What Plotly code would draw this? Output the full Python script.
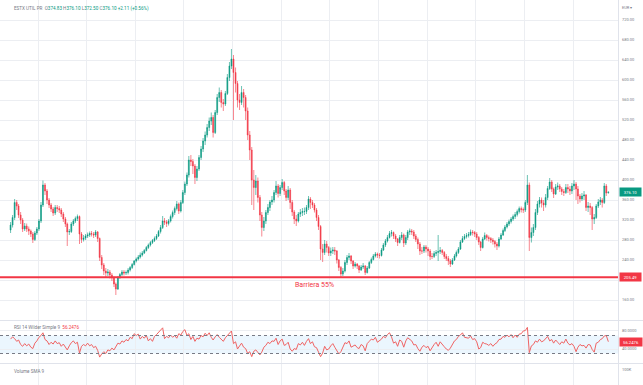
import pandas as pd
import plotly.graph_objects as go

FIG_W, FIG_H = 643, 385
PLOT_R = 618  # right edge of the panes (px)

symbol = "ESTX UTIL PR"
currency = "EUR"
barrier = 205.49
barrier_label = "Barriera 55%"

first_open = 300
last_open = 374.83

# monthly closes, Nov 1998 -> Jun 2023
closes = [
    310, 325,
    355, 348, 330, 320, 302, 308, 302, 298, 292, 281, 294, 302,
    318, 350, 390, 378, 360, 350, 342, 334, 345, 343, 340, 332,
    322, 312, 296, 297, 312, 318, 323, 327, 292, 281, 284, 288,
    290, 293, 292, 290, 296, 283, 245, 230, 218, 214, 216, 210,
    204, 192, 182, 205, 211, 216, 214, 215, 220, 225, 231, 238,
    242, 246, 250, 254, 259, 265, 270, 275, 279, 283, 288, 297,
    305, 318, 316, 313, 318, 327, 335, 343, 352, 338, 355, 375,
    392, 410, 440, 437, 428, 405, 422, 445, 462, 478, 490, 505,
    518, 525, 495, 535, 565, 575, 555, 552, 573, 605, 628, 642,
    615, 593, 560, 555, 575, 565, 538, 490, 460, 400, 385, 398,
    365, 330, 305, 318, 335, 345, 356, 360, 375, 388, 373, 385,
    395, 378, 365, 380, 355, 336, 322, 318, 332, 335, 337, 337,
    345, 362, 355, 350, 340, 325, 307, 262, 255, 272, 265, 254,
    258, 260, 258, 240, 225, 212, 218, 235, 245, 248, 238, 228,
    232, 228, 220, 226, 228, 215, 224, 235, 241, 248, 252, 250,
    249, 260, 270, 278, 285, 293, 295, 288, 282, 275, 285, 290,
    274, 285, 296, 298, 296, 288, 281, 272, 258, 258, 266, 262,
    258, 247, 247, 253, 255, 257, 259, 255, 247, 243, 238, 232,
    240, 248, 255, 262, 276, 283, 287, 289, 291, 296, 295, 292,
    285, 276, 265, 282, 289, 285, 283, 280, 277, 272, 268, 282,
    290, 299, 306, 312, 317, 322, 327, 331, 337, 343, 341, 340,
    355, 390, 285, 295, 305, 335, 352, 360, 354, 350, 365, 383,
    396, 382, 372, 386, 388, 382, 377, 375, 385, 382, 378, 388,
    392, 382, 368, 362, 368, 370, 345, 348, 345, 322, 325, 348,
    356, 360, 355, 388, 373.99, 376.10,
]

highs = [
    316, 330,
    362, 360, 352, 336, 324, 314, 313, 307, 301, 296, 298, 306,
    322, 356, 399, 394, 382, 364, 354, 346, 350, 350, 348, 344,
    336, 326, 315, 302, 316, 322, 327, 331, 329, 296, 290, 292,
    295, 297, 298, 296, 300, 298, 285, 250, 234, 224, 222, 220,
    214, 207, 195, 208, 214, 220, 220, 219, 224, 228, 234, 240,
    245, 250, 255, 258, 262, 268, 273, 278, 282, 287, 292, 300,
    310, 328, 324, 320, 322, 331, 339, 347, 358, 355, 360, 380,
    397, 415, 448, 450, 442, 432, 428, 450, 468, 484, 497, 512,
    525, 535, 530, 540, 572, 585, 580, 562, 578, 612, 636, 662,
    650, 625, 598, 572, 588, 582, 570, 545, 498, 466, 420, 410,
    405, 370, 336, 326, 340, 352, 360, 368, 380, 398, 392, 390,
    402, 398, 382, 388, 384, 360, 340, 330, 336, 342, 344, 345,
    350, 368, 366, 360, 354, 344, 330, 310, 272, 280, 278, 268,
    265, 266, 266, 260, 242, 228, 224, 240, 250, 254, 250, 240,
    236, 234, 230, 230, 234, 230, 228, 238, 245, 252, 256, 255,
    254, 264, 274, 282, 290, 298, 300, 297, 292, 284, 290, 296,
    293, 290, 300, 303, 302, 300, 292, 285, 276, 266, 270, 270,
    266, 262, 254, 258, 260, 290, 266, 262, 258, 252, 248, 242,
    244, 252, 259, 266, 280, 288, 292, 294, 296, 301, 300, 298,
    296, 288, 278, 286, 295, 292, 289, 286, 284, 280, 276, 286,
    294, 303, 310, 316, 321, 326, 331, 336, 341, 347, 347, 345,
    360, 410, 395, 305, 312, 342, 358, 366, 365, 360, 372, 388,
    404, 400, 385, 392, 395, 392, 386, 382, 392, 392, 388, 394,
    400, 396, 388, 372, 374, 378, 372, 356, 354, 348, 332, 352,
    362, 366, 364, 394, 392, 376.10,
]

lows = [
    294, 305,
    320, 340, 324, 312, 296, 298, 296, 290, 286, 274, 278, 290,
    298, 314, 346, 370, 352, 344, 336, 328, 330, 336, 334, 326,
    316, 306, 268, 290, 294, 308, 314, 318, 272, 274, 277, 280,
    284, 286, 287, 284, 286, 276, 238, 222, 210, 206, 208, 203,
    198, 186, 170, 180, 202, 208, 209, 210, 211, 217, 222, 229,
    235, 239, 243, 247, 252, 257, 262, 267, 272, 276, 280, 286,
    293, 302, 310, 306, 309, 315, 323, 330, 339, 332, 335, 352,
    370, 388, 405, 428, 412, 392, 398, 418, 440, 456, 470, 485,
    498, 510, 485, 492, 530, 556, 545, 538, 548, 570, 598, 622,
    520, 575, 545, 540, 550, 545, 520, 480, 440, 350, 340, 370,
    355, 318, 287, 298, 312, 330, 338, 350, 355, 370, 365, 368,
    380, 370, 358, 360, 342, 328, 312, 308, 315, 326, 328, 330,
    332, 340, 342, 344, 335, 318, 300, 240, 236, 250, 255, 248,
    248, 252, 250, 233, 218, 205, 208, 215, 230, 240, 232, 222,
    225, 222, 214, 218, 222, 210, 213, 222, 232, 239, 245, 244,
    243, 247, 258, 266, 275, 283, 287, 282, 276, 268, 273, 280,
    266, 270, 280, 290, 290, 282, 276, 262, 250, 252, 254, 255,
    248, 240, 242, 244, 248, 238, 252, 250, 242, 238, 230, 226,
    230, 238, 245, 252, 260, 274, 280, 283, 285, 288, 289, 286,
    280, 270, 258, 263, 280, 279, 277, 274, 271, 265, 260, 265,
    280, 288, 296, 303, 308, 313, 318, 322, 327, 333, 335, 334,
    336, 350, 258, 275, 288, 300, 330, 345, 345, 338, 345, 360,
    380, 376, 364, 370, 380, 376, 370, 368, 372, 374, 370, 372,
    380, 360, 352, 355, 358, 360, 338, 336, 330, 300, 312, 322,
    344, 350, 345, 352, 368, 372.50,
]

rsi = [
    62, 67,
    63, 57, 60, 50, 46, 52, 47, 51, 44, 41, 53, 58,
    66, 70, 76, 61, 58, 50, 55, 51, 58, 52, 54, 46,
    51, 44, 38, 47, 54, 58, 52, 55, 31, 46, 50, 47,
    53, 47, 50, 43, 46, 37, 22, 29, 34, 30, 38, 36,
    42, 38, 47, 53, 51, 58, 55, 61, 58, 66, 63, 74,
    70, 73, 62, 68, 64, 70, 58, 63, 57, 68, 72, 76,
    82, 87, 63, 68, 65, 71, 66, 70, 64, 74, 71, 79,
    83, 70, 74, 61, 68, 57, 64, 62, 70, 67, 75, 70,
    76, 66, 60, 67, 72, 66, 61, 57, 65, 70, 75, 80,
    52, 56, 40, 48, 53, 44, 41, 30, 34, 23, 35, 38,
    32, 27, 33, 44, 48, 55, 52, 58, 57, 64, 50, 58,
    62, 48, 50, 55, 40, 35, 41, 39, 52, 49, 55, 48,
    57, 63, 52, 56, 45, 43, 33, 23, 31, 46, 38, 40,
    47, 52, 44, 37, 29, 34, 43, 54, 52, 58, 44, 46,
    49, 43, 41, 50, 47, 36, 52, 57, 62, 60, 66, 55,
    58, 62, 68, 65, 72, 76, 67, 53, 56, 46, 60, 57,
    44, 58, 65, 61, 58, 49, 50, 41, 35, 44, 48, 43,
    46, 36, 44, 50, 55, 46, 56, 49, 45, 40, 37, 42,
    51, 58, 61, 68, 71, 76, 66, 65, 64, 69, 61, 63,
    56, 40, 43, 55, 52, 51, 48, 52, 46, 51, 54, 61,
    62, 68, 66, 71, 67, 72, 65, 71, 66, 73, 74, 80,
    81, 88, 32, 47, 50, 58, 55, 62, 56, 58, 63, 68,
    58, 61, 53, 60, 55, 50, 56, 53, 62, 53, 49, 52,
    46, 34, 44, 50, 47, 48, 42, 50, 49, 39, 33, 53,
    55, 61, 63, 69, 70, 56.2476,
]

price_ticks = [160, 200, 240, 280, 320, 360, 400, 440, 480, 520, 560, 600, 640, 680, 720]
hidden_ticks = [200]  # covered by the barrier price tag
rsi_ticks = [40, 80]
rsi_bands = [30, 70]
vol_ticks = [100000]
vol_tick_text = ["100K"]

dates = pd.date_range("1998-11-01", periods=len(closes), freq="MS") + pd.Timedelta(days=14)
opens = [first_open] + closes[:-1]
opens[-1] = last_open

UP = "#089981"
DOWN = "#f23645"
RSI_C = "#f06464"
GRID = "#eceef2"
SEP = "#e0e3eb"
TXT = "#787b86"
FONT = "Roboto, Liberation Sans, Arial, sans-serif"

X_RANGE = ["1998-06-09", "2023-11-07"]


def py(px):
    return 1 - px / FIG_H


def pxx(px):
    return px / PLOT_R


fig = go.Figure()
fig.add_trace(go.Candlestick(
    x=dates, open=opens, high=highs, low=lows, close=closes,
    increasing=dict(line=dict(color=UP, width=0.6), fillcolor=UP),
    decreasing=dict(line=dict(color=DOWN, width=0.6), fillcolor=DOWN),
    whiskerwidth=0, xaxis="x", yaxis="y", showlegend=False, hoverinfo="skip",
))
fig.add_trace(go.Scatter(
    x=dates, y=rsi, mode="lines", line=dict(color=RSI_C, width=1),
    xaxis="x2", yaxis="y2", showlegend=False, hoverinfo="skip",
))
fig.add_trace(go.Scatter(x=[dates[0]], y=[None], mode="lines", xaxis="x3", yaxis="y3",
                         showlegend=False, hoverinfo="skip"))

xcommon = dict(domain=[0, 1], range=X_RANGE, type="date", showticklabels=False,
               showgrid=True, gridcolor=GRID, gridwidth=1, tick0="2000-01-01", dtick="M24",
               zeroline=False, showline=False, ticks="", automargin=False,
               rangeslider=dict(visible=False), fixedrange=True)
ycommon = dict(side="right", showgrid=True, gridcolor=GRID, gridwidth=1, zeroline=False,
               showline=False, ticks="", automargin=False, fixedrange=True,
               tickfont=dict(size=4, color=TXT, family=FONT), ticklabelstandoff=3)

layout = dict(
    width=FIG_W, height=FIG_H,
    margin=dict(l=0, r=FIG_W - PLOT_R, t=0, b=0, pad=0),
    paper_bgcolor="white", plot_bgcolor="white",
    showlegend=False,
    xaxis=dict(xcommon, anchor="y"),
    xaxis2=dict(xcommon, anchor="y2", matches="x"),
    xaxis3=dict(xcommon, anchor="y3", matches="x"),
    yaxis=dict(ycommon, anchor="x", domain=[py(320), 1], range=[120, 760],
               tickvals=price_ticks,
               ticktext=["" if v in hidden_ticks else f"{v:.2f}" for v in price_ticks]),
    yaxis2=dict(ycommon, anchor="x2", domain=[py(363), py(321)], range=[8.9, 102.2],
                tickvals=rsi_ticks, ticktext=[f"{v:.4f}" for v in rsi_ticks]),
    yaxis3=dict(ycommon, anchor="x3", domain=[0, py(364)], range=[0, 137500],
                tickvals=vol_ticks, ticktext=vol_tick_text, showgrid=False),
)
fig.update_layout(**layout)

shapes = [
    # RSI band
    dict(type="rect", xref="paper", yref="y2", x0=0, x1=1, y0=rsi_bands[0], y1=rsi_bands[1],
         fillcolor="rgba(33,150,243,0.09)", line=dict(width=0), layer="below"),
    dict(type="line", xref="paper", yref="y2", x0=0, x1=1, y0=rsi_bands[1], y1=rsi_bands[1],
         line=dict(color=TXT, width=1, dash="dot")),
    dict(type="line", xref="paper", yref="y2", x0=0, x1=1, y0=rsi_bands[0], y1=rsi_bands[0],
         line=dict(color=TXT, width=1, dash="dot")),
    # barrier
    dict(type="line", xref="paper", yref="y", x0=0, x1=1, y0=barrier, y1=barrier,
         line=dict(color=DOWN, width=2)),
    # pane separators
    dict(type="line", xref="paper", yref="paper", x0=0, x1=FIG_W / PLOT_R, y0=py(320.5), y1=py(320.5),
         line=dict(color=SEP, width=1)),
    dict(type="line", xref="paper", yref="paper", x0=0, x1=FIG_W / PLOT_R, y0=py(363.5), y1=py(363.5),
         line=dict(color=SEP, width=1)),
    # price scale border
    dict(type="line", xref="paper", yref="paper", x0=1.0008, x1=1.0008, y0=0, y1=1,
         line=dict(color=SEP, width=1)),
]
fig.update_layout(shapes=shapes)

chg = closes[-1] - closes[-2]
pct = chg / closes[-2] * 100
g = lambda s: f'<span style="color:{UP}">{s}</span>'
header = (f"{symbol}  O{g(f'{opens[-1]:.2f}')} H{g(f'{highs[-1]:.2f}')} "
          f"L{g(f'{lows[-1]:.2f}')} C{g(f'{closes[-1]:.2f}')} "
          f"{g(f'{chg:+.2f} ({pct:+.2f}%)')}")

ann = [
    dict(text=header, xref="paper", yref="paper", x=pxx(12), y=py(8), xanchor="left",
         yanchor="middle", showarrow=False, font=dict(size=4.6, color=TXT, family=FONT)),
    dict(text=f"{currency} ▾", xref="paper", yref="paper", x=pxx(627), y=py(7), xanchor="center",
         yanchor="middle", showarrow=False, font=dict(size=4, color=TXT, family=FONT)),
    dict(text=f'RSI 14 Wilder Simple 9  <span style="color:{DOWN}">{rsi[-1]:.4f}</span>',
         xref="paper", yref="paper", x=pxx(12), y=py(327), xanchor="left", yanchor="middle",
         showarrow=False, font=dict(size=4.6, color=TXT, family=FONT)),
    dict(text="Volume SMA 9", xref="paper", yref="paper", x=pxx(12), y=py(371), xanchor="left",
         yanchor="middle", showarrow=False, font=dict(size=4.6, color=TXT, family=FONT)),
    dict(text=barrier_label, xref="paper", yref="paper", x=pxx(314), y=py(285), xanchor="center",
         yanchor="middle", showarrow=False, font=dict(size=7, color=DOWN, family=FONT)),
    dict(text=f"{closes[-1]:.2f}", xref="paper", yref="y", x=pxx(619), y=closes[-1],
         xanchor="left", yanchor="middle", showarrow=False, bgcolor=UP, borderpad=1.5, width=18,
         font=dict(size=4.2, color="white", family=FONT)),
    dict(text=f"{barrier:.2f}", xref="paper", yref="y", x=pxx(619), y=barrier,
         xanchor="left", yanchor="middle", showarrow=False, bgcolor=DOWN, borderpad=1.5, width=18,
         font=dict(size=4.2, color="white", family=FONT)),
    dict(text=f"{rsi[-1]:.4f}", xref="paper", yref="y2", x=pxx(619), y=rsi[-1],
         xanchor="left", yanchor="middle", showarrow=False, bgcolor=DOWN, borderpad=1.5, width=19,
         font=dict(size=4.2, color="white", family=FONT)),
]
fig.update_layout(annotations=ann)

fig.write_html("out.html", config=dict(displayModeBar=False, staticPlot=True),
               post_script="document.body.style.margin='0';document.body.style.padding='0';")
